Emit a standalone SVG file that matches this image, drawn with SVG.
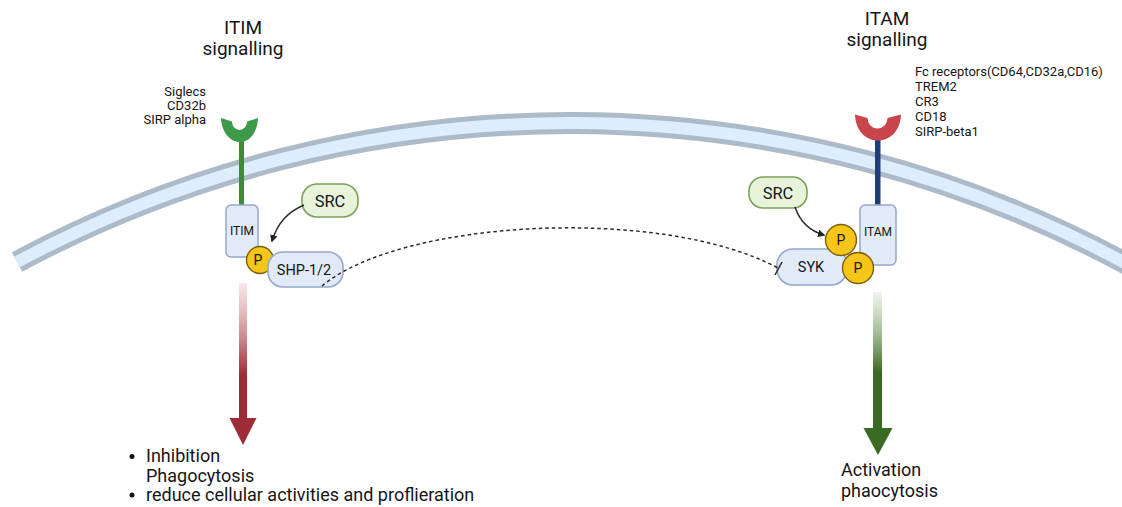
<svg xmlns="http://www.w3.org/2000/svg" width="1122" height="507" viewBox="0 0 1122 507">
  <defs>
    <linearGradient id="redFade" gradientUnits="userSpaceOnUse" x1="0" y1="283" x2="0" y2="375">
      <stop offset="0" stop-color="#f4d6d8" stop-opacity="0.6"/>
      <stop offset="1" stop-color="#9e2b36"/>
    </linearGradient>
    <linearGradient id="greenFade" gradientUnits="userSpaceOnUse" x1="0" y1="292" x2="0" y2="372">
      <stop offset="0" stop-color="#e4eedc" stop-opacity="0.6"/>
      <stop offset="1" stop-color="#3a6b22"/>
    </linearGradient>
    <marker id="arrowHead" viewBox="0 0 10 10" refX="8" refY="5" markerWidth="5" markerHeight="5" orient="auto">
      <path d="M0 0 L10 5 L0 10 Z" fill="#222"/>
    </marker>
  </defs>
  <style>
    text { font-family: Roboto, "Liberation Sans", sans-serif; fill: #151515; }
    .title { font-size: 19px; text-anchor: middle; }
    .label { font-size: 13px; }
    .outcome { font-size: 18px; }
    .motif { fill: #e2eaf8; stroke: #93a8cc; stroke-width: 1.5; }
    .motif-text { font-size: 12px; text-anchor: middle; }
    .kinase { fill: #e8f3dc; stroke: #7d9f5a; stroke-width: 1.6; }
    .phos { fill: #f6c519; stroke: #7b5e10; stroke-width: 1.4; }
    .phos-text { font-size: 14px; text-anchor: middle; }
    .enzyme { fill: #e2eaf8; stroke: #93a8cc; stroke-width: 1.6; }
    .enzyme-text { font-size: 14.5px; text-anchor: middle; }
    .membrane-outer { fill: none; stroke: #acbbc7; stroke-width: 22; }
    .membrane-inner { fill: none; stroke: #ddedfb; stroke-width: 12; }
    .link { fill: none; stroke: #2a2a2a; stroke-width: 1.5; }
  </style>

  <rect width="1122" height="507" fill="#ffffff"/>

  <!-- cell membrane -->
  <g id="membrane">
    <path class="membrane-outer" d="M 17 262 A 1170 1170 0 0 1 1130 265.7"/>
    <path class="membrane-inner" d="M 17 262 A 1170 1170 0 0 1 1130 265.7"/>
  </g>

  <!-- titles -->
  <g id="itim-title">
    <text class="title" x="243" y="34">ITIM</text>
    <text class="title" x="243" y="55">signalling</text>
  </g>
  <g id="itam-title">
    <text class="title" x="887" y="25">ITAM</text>
    <text class="title" x="887" y="46">signalling</text>
  </g>

  <!-- receptor lists -->
  <g id="itim-receptors">
    <text class="label" x="206" y="96" text-anchor="end">Siglecs</text>
    <text class="label" x="206" y="110" text-anchor="end">CD32b</text>
    <text class="label" x="206" y="124" text-anchor="end">SIRP alpha</text>
  </g>
  <g id="itam-receptors">
    <text class="label" x="915" y="76">Fc receptors(CD64,CD32a,CD16)</text>
    <text class="label" x="915" y="91">TREM2</text>
    <text class="label" x="915" y="106">CR3</text>
    <text class="label" x="915" y="121">CD18</text>
    <text class="label" x="915" y="136">SIRP-beta1</text>
  </g>

  <!-- inhibitory receptor -->
  <g id="itim-receptor">
    <rect x="239" y="138" width="5" height="68" fill="#3e8a36"/>
    <path d="M 221 118 L 232 121.5 A 7.5 8.5 0 0 0 247 121.5 L 258 118 C 257.5 132 250 142 240 142 C 230 142 221.5 132 221 118 Z" fill="#3d9a48"/>
  </g>
  <g id="itim-motif">
    <rect class="motif" x="226" y="205" width="32" height="52" rx="5"/>
    <text class="motif-text" x="242" y="235">ITIM</text>
  </g>

  <!-- activating receptor -->
  <g id="itam-receptor">
    <rect x="875" y="136" width="5.5" height="70" fill="#1d3e7a"/>
    <path d="M 855 114.5 L 867.5 118 A 10 10.5 0 0 0 887.5 118 L 901 114.5 C 900.5 130 891 140.5 878 140.5 C 865 140.5 855.5 130 855 114.5 Z" fill="#c8464b"/>
  </g>
  <g id="itam-motif">
    <rect class="motif" x="860" y="205" width="36" height="60" rx="5"/>
    <text class="motif-text" x="878" y="236">ITAM</text>
  </g>

  <!-- ITIM side kinase and phosphatase -->
  <g id="src-left">
    <rect class="kinase" x="302" y="184" width="56" height="33" rx="15"/>
    <text x="330" y="206.5" font-size="16.5" text-anchor="middle">SRC</text>
  </g>
  <g id="p-itim">
    <circle class="phos" cx="260" cy="260" r="13.5"/>
    <text class="phos-text" x="258" y="265">P</text>
  </g>
  <g id="shp">
    <rect class="enzyme" x="268" y="252" width="75" height="35" rx="15"/>
    <text class="enzyme-text" x="304" y="275">SHP-1/2</text>
  </g>

  <!-- ITAM side kinases -->
  <g id="src-right">
    <rect class="kinase" x="749" y="177" width="58" height="31" rx="14"/>
    <text x="778" y="198.5" font-size="16.5" text-anchor="middle">SRC</text>
  </g>
  <g id="syk">
    <rect class="enzyme" x="777" y="249" width="70" height="36" rx="16"/>
    <text class="enzyme-text" x="811" y="272">SYK</text>
  </g>
  <g id="p-itam-1">
    <circle class="phos" cx="841" cy="240" r="15.5"/>
    <text class="phos-text" x="841" y="245">P</text>
  </g>
  <g id="p-itam-2">
    <circle class="phos" cx="858" cy="268" r="15.5"/>
    <text class="phos-text" x="858" y="273">P</text>
  </g>

  <!-- connectors -->
  <g id="connectors">
    <path class="link" d="M 304 205 C 288 212 278 222 272 241" marker-end="url(#arrowHead)"/>
    <path class="link" d="M 795 207 C 800 222 810 231 824 235" stroke-width="1.2" marker-end="url(#arrowHead)"/>
    <path class="link" d="M 322 286 C 400 220 660 205 778 268" stroke-dasharray="3.5 3" stroke-width="2"/>
    <path class="link" d="M 775 275 L 782 262" stroke-width="1.8"/>
    <!-- downstream outcome arrows -->
    <rect x="239" y="283" width="8" height="136" fill="url(#redFade)"/>
    <path d="M 229.5 418 L 256.5 418 L 243 445 Z" fill="#9e2b36"/>
    <rect x="873" y="292" width="9" height="137" fill="url(#greenFade)"/>
    <path d="M 863.5 428 L 892.5 428 L 878 455 Z" fill="#3a6b22"/>
  </g>

  <!-- outcomes -->
  <g id="itim-outcome">
    <circle cx="132" cy="456.5" r="2.5" fill="#151515"/>
    <text class="outcome" x="146" y="462">Inhibition</text>
    <text class="outcome" x="146" y="482">Phagocytosis</text>
    <circle cx="132" cy="495" r="2.5" fill="#151515"/>
    <text class="outcome" x="146" y="501">reduce cellular activities and proflieration</text>
  </g>
  <g id="itam-outcome">
    <text class="outcome" x="841" y="476">Activation</text>
    <text class="outcome" x="841" y="497">phaocytosis</text>
  </g>
</svg>
